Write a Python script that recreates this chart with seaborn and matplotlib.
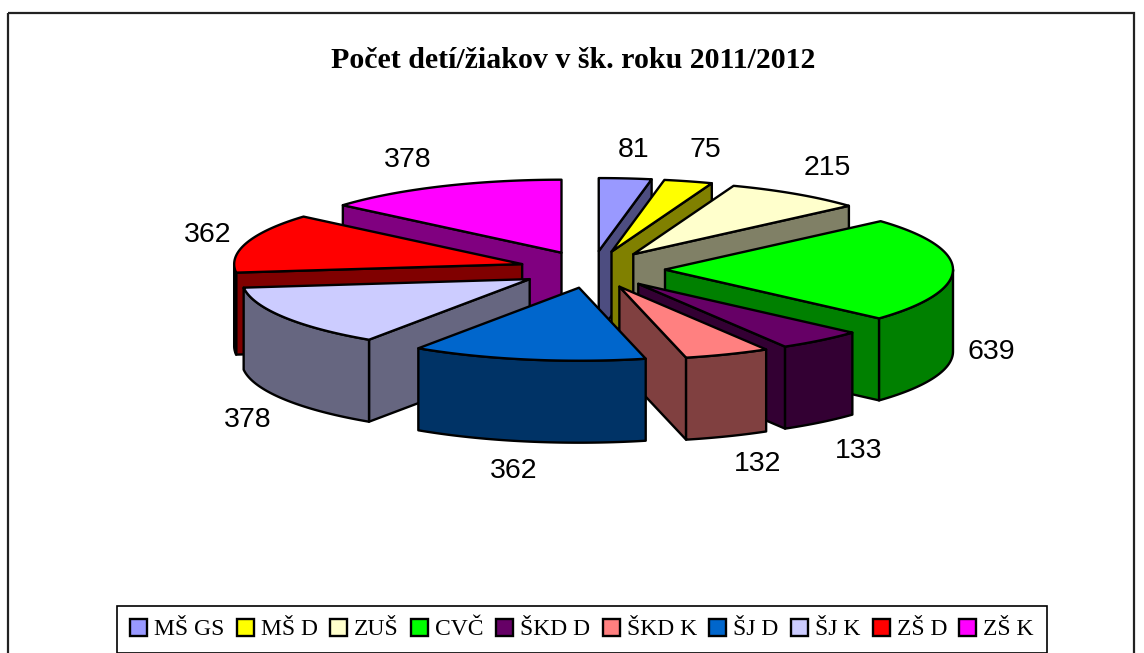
import numpy as np
import matplotlib
matplotlib.use("Agg")
import matplotlib.pyplot as plt
from matplotlib.patches import Polygon, Patch, Rectangle
import seaborn as sns

categories = ["MŠ GS", "MŠ D", "ZUŠ", "CVČ", "ŠKD D", "ŠKD K", "ŠJ D", "ŠJ K", "ZŠ D", "ZŠ K"]
values = [81, 75, 215, 639, 133, 132, 362, 378, 362, 378]
top_colors = ["#9999FF", "#FFFF00", "#FFFFCC", "#00FF00", "#660066",
              "#FF8080", "#0066CC", "#CCCCFF", "#FF0000", "#FF00FF"]
title = "Počet detí/žiakov v šk. roku 2011/2012"

# layout (pixels of the 1144x653 canvas)
CX, CY = 592, 269.5
RX, RY = 288, 73
EX, EY = 73, 18.5
DEPTH = 82
LABEL_OFFSET = [(8, -28), (17, -31), (31, -26), (38, 82), (38, 111),
                (30, 110), (-14, 111), (-36, 103), (-39, -8), (-33, -26)]

sns.set_theme(style="white")
palette = sns.color_palette(top_colors)
shade = [tuple(c * 0.5 for c in col) for col in palette]

fig = plt.figure(figsize=(11.44, 6.53), dpi=100)
ax = fig.add_axes([0, 0, 1, 1])
ax.set_xlim(0, 1144)
ax.set_ylim(653, 0)
ax.axis("off")

ax.add_patch(Rectangle((7.5, 13), 1126, 642, fill=False, ec="#222222", lw=1.6, zorder=0, clip_on=False))

edges = np.radians(np.concatenate([[0], np.cumsum(values)]) / np.sum(values) * 360)


def on_rim(tip, a):
    return np.column_stack([tip[0] + RX * np.sin(a), tip[1] - RY * np.cos(a)])


mids = (edges[:-1] + edges[1:]) / 2
tips = np.column_stack([CX + EX * np.sin(mids), CY - EY * np.cos(mids)])
order = np.argsort(tips[:, 1])

z = 1
down = np.array([0, DEPTH])
for i in order:
    a0, a1 = edges[i], edges[i + 1]
    tip = tips[i]
    arc = on_rim(tip, np.linspace(a0, a1, 80))
    style = dict(ec="black", lw=1.7, joinstyle="round")
    walls = []
    if np.sin(a1) > 1e-6:
        walls.append(np.vstack([tip, arc[-1], arc[-1] + down, tip + down]))
    if np.sin(a0) < -1e-6:
        walls.append(np.vstack([tip, arc[0], arc[0] + down, tip + down]))
    lo, hi = max(a0, np.pi / 2), min(a1, 3 * np.pi / 2)
    if hi > lo:
        r = on_rim(tip, np.linspace(lo, hi, 80))
        walls.append(np.vstack([r, r[::-1] + down]))
    for w in walls:
        ax.add_patch(Polygon(w, closed=True, fc=shade[i], zorder=z, **style))
        z += 1
    ax.add_patch(Polygon(np.vstack([tip, arc]), closed=True, fc=palette[i], zorder=z, **style))
    z += 1

for i in range(len(values)):
    rim = on_rim(tips[i], np.array([mids[i]]))[0]
    dx, dy = LABEL_OFFSET[i]
    ax.text(rim[0] + dx, rim[1] + dy, str(values[i]), ha="center", va="center",
            fontsize=20.5, family="Liberation Sans", color="black", zorder=z + 1)

ax.text(573, 60, title, ha="center", va="center", fontsize=21.5, fontweight="bold",
        family="Liberation Serif", color="black")

handles = [Patch(fc=c, ec="black", lw=1.7) for c in palette]
leg = fig.legend(handles, categories, ncol=10, loc="center", bbox_to_anchor=(582 / 1144, 1 - 629.5 / 653),
                 frameon=True, fancybox=False, edgecolor="black", facecolor="white", framealpha=1,
                 prop={"family": "Liberation Serif", "size": 17}, labelcolor="black",
                 handlelength=0.72, handleheight=0.72, handletextpad=0.3, columnspacing=0.52,
                 borderpad=0.55, borderaxespad=0)
leg.get_frame().set_linewidth(1.2)

fig.savefig("out.png", dpi=100, facecolor="white")
